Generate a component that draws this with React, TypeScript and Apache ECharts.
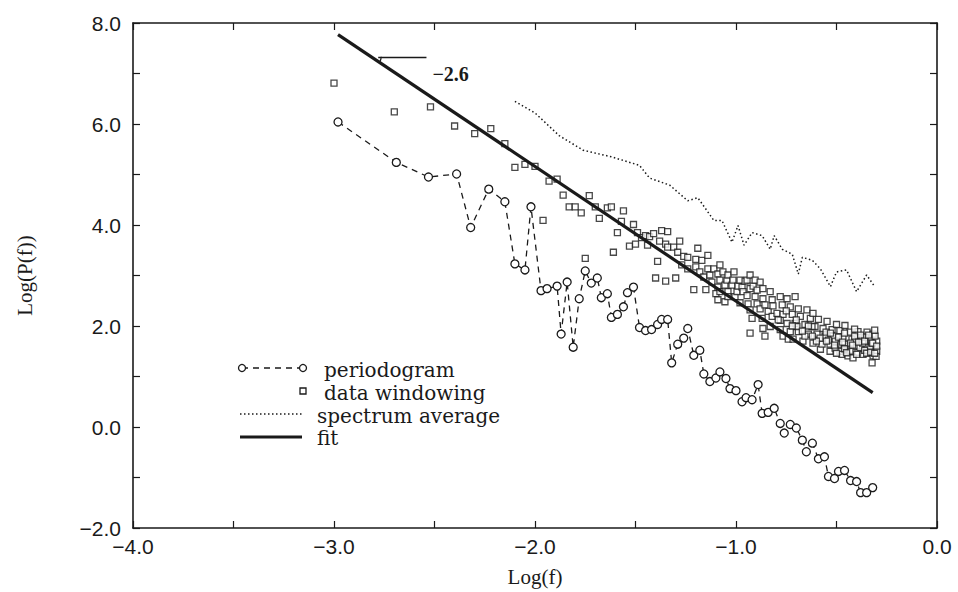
import React, { useEffect, useRef } from "react";
import * as echarts from "echarts";

const xTicksLabeled = [-4, -3, -2, -1, 0];
const yTicksLabeled = [-2, 0, 2, 4, 6, 8];

const periodogram: [number, number][] = [
  [-2.98, 6.04], [-2.69, 5.24], [-2.53, 4.95], [-2.39, 5.01], [-2.32, 3.95], [-2.23, 4.71],
  [-2.15, 4.46], [-2.10, 3.23], [-2.05, 3.11], [-2.02, 4.36], [-1.97, 2.70], [-1.94, 2.74],
  [-1.89, 2.79], [-1.87, 1.84], [-1.84, 2.87], [-1.81, 1.58], [-1.78, 2.54], [-1.75, 3.09],
  [-1.72, 2.85], [-1.69, 2.95], [-1.67, 2.56], [-1.64, 2.64], [-1.62, 2.17], [-1.59, 2.23],
  [-1.56, 2.38], [-1.54, 2.66], [-1.51, 2.77], [-1.48, 1.97], [-1.45, 1.91], [-1.42, 1.93],
  [-1.39, 2.03], [-1.37, 2.13], [-1.34, 2.13], [-1.32, 1.27], [-1.29, 1.64], [-1.26, 1.76],
  [-1.24, 1.95], [-1.21, 1.42], [-1.18, 1.52], [-1.16, 1.05], [-1.13, 0.90], [-1.10, 0.97],
  [-1.08, 1.09], [-1.05, 0.96], [-1.03, 0.76], [-1.00, 0.72], [-0.97, 0.50], [-0.95, 0.58],
  [-0.92, 0.54], [-0.89, 0.84], [-0.87, 0.27], [-0.84, 0.29], [-0.81, 0.37], [-0.78, 0.07],
  [-0.76, -0.12], [-0.73, 0.05], [-0.70, -0.02], [-0.67, -0.26], [-0.65, -0.49], [-0.62, -0.32],
  [-0.59, -0.63], [-0.56, -0.59], [-0.54, -0.98], [-0.51, -1.02], [-0.49, -0.88], [-0.46, -0.86],
  [-0.43, -1.06], [-0.40, -1.08], [-0.38, -1.30], [-0.35, -1.30], [-0.32, -1.20],
];

const dataWindowing: [number, number][] = [
  [-3.00, 6.81], [-2.70, 6.24], [-2.52, 6.34], [-2.40, 5.96], [-2.30, 5.81], [-2.22, 5.91],
  [-2.15, 5.61], [-2.10, 5.14], [-2.05, 5.20], [-2.00, 5.16], [-1.96, 4.09], [-1.93, 4.87],
  [-1.89, 4.91], [-1.86, 4.59], [-1.83, 4.36], [-1.80, 4.36], [-1.77, 4.24], [-1.73, 4.58],
  [-1.70, 4.36], [-1.68, 4.13], [-1.64, 4.34], [-1.62, 4.36], [-1.75, 3.34], [-1.61, 3.46],
  [-1.59, 3.85], [-1.57, 4.07], [-1.56, 4.28], [-1.53, 3.58], [-1.51, 4.01], [-1.50, 3.62],
  [-1.49, 3.85], [-1.47, 3.75], [-1.45, 3.79], [-1.44, 3.60], [-1.43, 3.77], [-1.41, 3.83],
  [-1.39, 3.28], [-1.38, 3.68], [-1.37, 3.89], [-1.35, 3.62], [-1.34, 3.87], [-1.40, 2.95],
  [-1.35, 2.89], [-1.34, 3.56], [-1.31, 3.56], [-1.30, 2.95], [-1.29, 3.46], [-1.28, 3.68],
  [-1.26, 3.38], [-1.24, 3.36], [-1.27, 3.21], [-1.24, 3.13], [-1.21, 2.72], [-1.20, 3.32],
  [-1.20, 3.17], [-1.19, 3.54], [-1.18, 3.07], [-1.17, 3.30], [-1.16, 2.97], [-1.15, 2.72],
  [-1.14, 3.13], [-1.14, 3.40], [-1.13, 3.01], [-1.12, 2.87], [-1.11, 3.13], [-1.10, 2.64],
  [-1.09, 3.03], [-1.09, 2.77], [-1.09, 2.52], [-1.08, 3.21], [-1.08, 2.91], [-1.08, 2.68],
  [-1.065, 3.07], [-1.055, 2.81], [-1.055, 2.48], [-1.045, 2.91], [-1.04, 3.01], [-1.04, 2.68],
  [-1.04, 2.58], [-1.02, 2.81], [-1.015, 2.91], [-1.01, 3.07], [-1.005, 2.58], [-0.995, 2.68],
  [-0.99, 2.79], [-0.98, 2.91], [-0.98, 2.46], [-0.97, 2.77], [-0.965, 2.68], [-0.955, 2.89],
  [-0.945, 2.91], [-0.945, 2.60], [-0.94, 2.44], [-0.93, 3.01], [-0.93, 2.74], [-0.93, 2.32],
  [-0.93, 1.86], [-0.92, 2.15], [-0.915, 2.79], [-0.905, 2.91], [-0.905, 2.58], [-0.895, 2.71],
  [-0.895, 2.44], [-0.88, 2.87], [-0.88, 2.34], [-0.87, 2.15], [-0.866, 2.74], [-0.866, 2.54],
  [-0.866, 1.95], [-0.856, 2.42], [-0.856, 1.80], [-0.84, 2.29], [-0.83, 2.68], [-0.83, 1.99],
  [-0.82, 2.52], [-0.82, 2.19], [-0.816, 2.40], [-0.796, 2.25], [-0.78, 2.58], [-0.78, 2.11],
  [-0.78, 1.93], [-0.77, 2.42], [-0.766, 2.23], [-0.766, 1.80], [-0.746, 2.54], [-0.746, 2.05],
  [-0.74, 1.74], [-0.73, 2.38], [-0.73, 1.89], [-0.72, 2.23], [-0.716, 1.74], [-0.706, 2.58],
  [-0.706, 2.05], [-0.69, 2.34], [-0.69, 1.89], [-0.68, 2.19], [-0.667, 1.70], [-0.657, 2.03],
  [-0.647, 2.32], [-0.64, 1.84], [-0.63, 2.15], [-0.617, 2.25], [-0.617, 1.66], [-0.607, 1.99],
  [-0.597, 1.84], [-0.59, 2.13], [-0.58, 1.54], [-0.572, 1.64], [-0.567, 1.95], [-0.557, 1.80],
  [-0.547, 2.09], [-0.532, 1.64], [-0.532, 1.50], [-0.522, 1.93], [-0.517, 1.80], [-0.50, 2.03],
  [-0.49, 1.64], [-0.483, 1.91], [-0.483, 1.50], [-0.473, 1.44], [-0.468, 1.76], [-0.458, 2.01],
  [-0.443, 1.60], [-0.443, 1.41], [-0.433, 1.88], [-0.433, 1.50], [-0.423, 1.74], [-0.40, 1.60],
  [-0.393, 1.89], [-0.393, 1.48], [-0.373, 1.74], [-0.368, 1.44], [-0.348, 1.88], [-0.348, 1.60],
  [-0.333, 1.72], [-0.323, 1.27], [-0.318, 1.84], [-0.318, 1.41], [-0.308, 1.60], [-0.30, 1.70],
  [-0.30, 1.50], [-0.507, 1.70], [-0.458, 1.64], [-0.408, 1.70], [-0.383, 1.57], [-0.358, 1.78],
  [-0.333, 1.57], [-0.308, 1.80], [-0.303, 1.40], [-0.418, 1.37], [-0.507, 1.56], [-0.552, 1.88],
  [-0.622, 1.99], [-0.657, 1.80], [-0.697, 1.99], [-0.582, 1.76], [-0.46, 1.55], [-0.41, 1.80],
  [-0.36, 1.52], [-0.325, 1.66], [-0.37, 1.66], [-0.43, 1.66], [-0.49, 1.78], [-0.54, 1.72],
  [-0.55, 1.70], [-0.53, 1.86], [-0.51, 1.62], [-0.50, 1.46], [-0.47, 1.68], [-0.46, 1.86],
  [-0.45, 1.47], [-0.42, 1.62], [-0.41, 1.94], [-0.40, 1.44], [-0.39, 1.68], [-0.38, 1.82],
  [-0.36, 1.70], [-0.35, 1.46], [-0.34, 1.82], [-0.33, 1.48], [-0.32, 1.66], [-0.31, 1.92],
  [-0.31, 1.46], [-0.30, 1.60], [-0.60, 1.70], [-0.62, 1.80], [-0.64, 2.00], [-0.67, 1.90],
  [-0.70, 2.12], [-0.72, 2.00], [-0.75, 2.30], [-0.79, 2.12],
];

const spectrumAverage: [number, number][] = [
  [-2.10, 6.45], [-2.00, 6.22], [-1.88, 5.77], [-1.76, 5.48], [-1.62, 5.35], [-1.48, 5.18],
  [-1.43, 4.93], [-1.33, 4.79], [-1.24, 4.48], [-1.19, 4.54], [-1.11, 4.09], [-1.07, 4.09],
  [-1.02, 3.66], [-0.99, 3.99], [-0.96, 3.60], [-0.92, 3.85], [-0.87, 3.79], [-0.83, 3.52],
  [-0.81, 3.79], [-0.77, 3.52], [-0.72, 3.42], [-0.69, 3.03], [-0.67, 3.36], [-0.62, 3.30],
  [-0.58, 3.13], [-0.53, 2.78], [-0.50, 3.07], [-0.45, 3.11], [-0.40, 2.68], [-0.35, 3.01],
  [-0.31, 2.78],
];

const fitLine: [number, number][] = [[-2.98, 7.77], [-0.32, 0.68]];
const slopeText = "\u22122.6";
const slopeMarkY = 7.33;
const slopeMarkX: [number, number] = [-2.78, -2.54];
const slopeTextPos: [number, number] = [-2.42, 7.0];

const legendNames = ["periodogram", "data windowing", "spectrum average", "fit"];

const fmt = (v: number) => (v < 0 ? "\u2212" + Math.abs(v).toFixed(1) : v.toFixed(1));

export default function App() {
  const ref = useRef<HTMLDivElement>(null);
  useEffect(() => {
    if (!ref.current) return;
    const chart = echarts.init(ref.current, null, { renderer: "svg" });
    const ink = "#1a1a1a";
    const tickFont = { fontFamily: "Liberation Sans", fontSize: 21, color: ink };
    const serif = "Liberation Serif";
    const common = { axisLine: { show: true, onZero: false, lineStyle: { color: ink, width: 1.6 } }, splitLine: { show: false } };
    const tick = { show: true, inside: true, length: 7, lineStyle: { color: ink, width: 1.2 } };
    const legendFont = { fontFamily: "DejaVu Serif", fontSize: 20, fill: ink, verticalAlign: "middle" };
    chart.setOption({
      animation: false,
      backgroundColor: "#ffffff",
      grid: { left: 133, right: 21, top: 23, bottom: 58, containLabel: false },
      xAxis: [
        {
          type: "value", min: -4, max: 0, interval: 0.5, position: "bottom", ...common, axisTick: tick,
          axisLabel: { ...tickFont, margin: 8, formatter: (v: number) => (xTicksLabeled.includes(v) ? fmt(v) : "") },
          name: "Log(f)", nameLocation: "middle", nameGap: 38,
          nameTextStyle: { fontFamily: serif, fontSize: 21, color: ink },
        },
        {
          type: "value", min: -4, max: 0, interval: 0.5, position: "top", ...common, axisTick: tick,
          axisLabel: { show: false },
        },
      ],
      yAxis: [
        {
          type: "value", min: -2, max: 8, interval: 1, position: "left", ...common, axisTick: tick,
          axisLabel: { ...tickFont, margin: 12, formatter: (v: number) => (yTicksLabeled.includes(v) ? fmt(v) : "") },
          name: "Log(P(f))", nameLocation: "middle", nameGap: 98, nameRotate: 90,
          nameTextStyle: { fontFamily: serif, fontSize: 21, color: ink },
        },
        {
          type: "value", min: -2, max: 8, interval: 1, position: "right", ...common, axisTick: tick,
          axisLabel: { show: false },
        },
      ],
      series: [
        {
          name: legendNames[2], type: "line", data: spectrumAverage, symbol: "none",
          lineStyle: { color: ink, width: 1.5, type: [1.5, 2.5] },
        },
        {
          name: legendNames[0], type: "line", data: periodogram, symbol: "circle", symbolSize: 8,
          itemStyle: { color: "#ffffff", borderColor: ink, borderWidth: 1.3 },
          lineStyle: { color: ink, width: 1.3, type: [6, 5] },
        },
        {
          name: legendNames[1], type: "scatter", data: dataWindowing, symbol: "rect", symbolSize: 6,
          itemStyle: { color: "#ffffff", borderColor: ink, borderWidth: 1.3 },
        },
        {
          name: legendNames[3], type: "line", data: fitLine, symbol: "none",
          lineStyle: { color: ink, width: 3.2 },
          markLine: {
            silent: true, symbol: "none", label: { show: false },
            lineStyle: { color: ink, width: 1.3, type: "solid" },
            data: [[{ coord: [slopeMarkX[0], slopeMarkY] }, { coord: [slopeMarkX[1], slopeMarkY] }]],
          },
          markPoint: {
            silent: true, symbol: "circle", symbolSize: 1, itemStyle: { color: "rgba(0,0,0,0)" },
            label: { show: true, formatter: slopeText, fontFamily: serif, fontWeight: "bold", fontSize: 20, color: ink },
            data: [{ coord: slopeTextPos }],
          },
        },
      ],
      graphic: {
        elements: [
          { id: "lg0", type: "line", shape: { x1: 242, y1: 368, x2: 303, y2: 368 }, style: { stroke: ink, lineWidth: 1.3, lineDash: [6, 5] } },
          { id: "lg1", type: "circle", shape: { cx: 242, cy: 368, r: 3.5 }, style: { fill: "#fff", stroke: ink, lineWidth: 1.3 } },
          { id: "lg2", type: "circle", shape: { cx: 303, cy: 368, r: 3.5 }, style: { fill: "#fff", stroke: ink, lineWidth: 1.3 } },
          { id: "lg3", type: "rect", shape: { x: 300, y: 388, width: 6, height: 6 }, style: { fill: "#fff", stroke: ink, lineWidth: 1.3 } },
          { id: "lg4", type: "line", shape: { x1: 240, y1: 414, x2: 302, y2: 414 }, style: { stroke: ink, lineWidth: 1.4, lineDash: [1.5, 2.5] } },
          { id: "lg5", type: "line", shape: { x1: 240, y1: 437, x2: 302, y2: 437 }, style: { stroke: ink, lineWidth: 3.2 } },
          { id: "lt0", type: "text", x: 324, y: 370, style: { text: legendNames[0], ...legendFont } },
          { id: "lt1", type: "text", x: 324, y: 393, style: { text: legendNames[1], ...legendFont } },
          { id: "lt2", type: "text", x: 317, y: 416, style: { text: legendNames[2], ...legendFont } },
          { id: "lt3", type: "text", x: 317, y: 438, style: { text: legendNames[3], ...legendFont } },
        ],
      },
    });
    // small angle arc at the slope marker, placed through the chart's own scales
    const fitSlope = (fitLine[1][1] - fitLine[0][1]) / (fitLine[1][0] - fitLine[0][0]);
    const xCross = fitLine[0][0] + (slopeMarkY - fitLine[0][1]) / fitSlope;
    const p = chart.convertToPixel({ gridIndex: 0 }, [xCross, slopeMarkY]) as number[];
    const p2 = chart.convertToPixel({ gridIndex: 0 }, [xCross + 0.1, slopeMarkY + 0.1 * fitSlope]) as number[];
    const ang = Math.atan2(p2[1] - p[1], p2[0] - p[0]);
    chart.setOption({
      graphic: {
        elements: [
          { id: "slopeArc", type: "arc", shape: { cx: p[0], cy: p[1], r: 10, startAngle: 0, endAngle: ang, clockwise: true }, style: { stroke: ink, lineWidth: 1.2, fill: "none" } },
        ],
      },
    });
    return () => chart.dispose();
  }, []);
  return <div ref={ref} style={{ position: "fixed", left: 0, top: 0, width: 958, height: 592 }} />;
}
